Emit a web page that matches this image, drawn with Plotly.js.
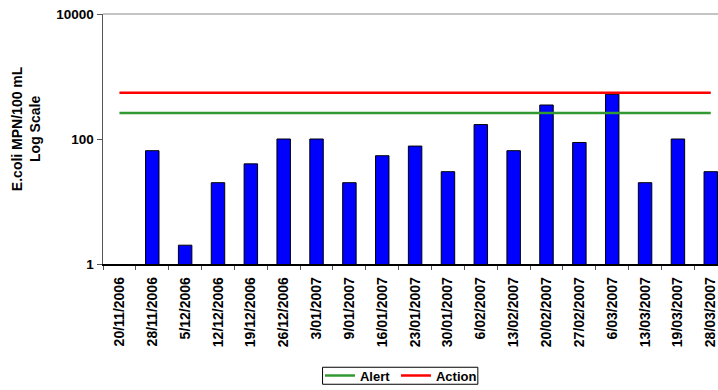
<!DOCTYPE html>
<html>
<head>
<meta charset="utf-8">
<script src="https://cdn.plot.ly/plotly-3.0.1.min.js"></script>
<style>
  html, body { margin: 0; padding: 0; background: #fff; overflow: hidden; }
  #chart { width: 718px; height: 390px; }
</style>
</head>
<body>
<div id="chart"></div>
<script>
// Sampling dates (category axis)
const sampleDates = [
  "20/11/2006", "28/11/2006", "5/12/2006", "12/12/2006", "19/12/2006",
  "26/12/2006", "3/01/2007", "9/01/2007", "16/01/2007", "23/01/2007",
  "30/01/2007", "6/02/2007", "13/02/2007", "20/02/2007", "27/02/2007",
  "6/03/2007", "13/03/2007", "19/03/2007", "28/03/2007"
];

// E.coli counts, MPN per 100 mL
const ecoliCounts = [
  null, 65, 2, 20, 40,
  100, 100, 20, 54, 77,
  30, 170, 65, 350, 88,
  520, 20, 100, 30
];

// Guideline thresholds
const alertLevel = 260;
const actionLevel = 550;

const alertSeries = sampleDates.map(() => alertLevel);
const actionSeries = sampleDates.map(() => actionLevel);

const FONT = "Arial, 'Liberation Sans', sans-serif";

const traces = [
  {
    type: "bar",
    x: sampleDates,
    y: ecoliCounts,
    width: 0.41,
    marker: { color: "#0000ff", line: { color: "#000000", width: 1 } },
    showlegend: false,
    hoverinfo: "x+y"
  },
  {
    type: "scatter",
    mode: "lines",
    name: "Alert",
    x: sampleDates,
    y: alertSeries,
    line: { color: "#339933", width: 2.5 }
  },
  {
    type: "scatter",
    mode: "lines",
    name: "Action",
    x: sampleDates,
    y: actionSeries,
    line: { color: "#ff0000", width: 2.5 }
  },
  // blank spacer entry so the fixed-width legend row leaves room for "Action"
  {
    type: "scatter",
    mode: "lines",
    name: " ",
    x: [null],
    y: [null],
    line: { color: "rgba(0,0,0,0)", width: 0 },
    hoverinfo: "skip"
  }
];

const layout = {
  width: 718,
  height: 390,
  margin: { l: 103, r: 0, t: 14, b: 126, autoexpand: false },
  paper_bgcolor: "#ffffff",
  plot_bgcolor: "#ffffff",
  font: { family: FONT, size: 14, color: "#000000", weight: "bold" },
  showlegend: true,
  legend: {
    orientation: "h",
    x: 0.3528,
    xanchor: "left",
    y: -0.446,
    yanchor: "middle",
    borderwidth: 0,
    bgcolor: "rgba(0,0,0,0)",
    entrywidth: 31,
    itemwidth: 30,
    font: { family: FONT, size: 13, weight: "bold" },
    tracegroupgap: 0
  },
  xaxis: {
    type: "category",
    range: [-0.5, 18.22],
    automargin: false,
    showgrid: false,
    zeroline: false,
    showline: true,
    linecolor: "#000000",
    linewidth: 1.5,
    ticks: "outside",
    tickson: "boundaries",
    ticklen: 4,
    tickcolor: "#555555",
    tickangle: -90,
    ticklabelstandoff: 6,
    tickfont: { family: FONT, size: 14, weight: "bold" },
    fixedrange: true
  },
  yaxis: {
    type: "log",
    range: [0, 4],
    tickvals: [1, 100, 10000],
    ticktext: ["1", "100", "10000"],
    automargin: false,
    showgrid: false,
    zeroline: false,
    showline: true,
    linecolor: "#555555",
    linewidth: 1.5,
    ticks: "outside",
    ticklen: 5,
    tickcolor: "#555555",
    tickfont: { family: FONT, size: 13.5, weight: "bold" },
    fixedrange: true
  },
  shapes: [
    // light top border of the plot area
    {
      type: "line", xref: "paper", yref: "paper",
      x0: 0, x1: 1, y0: 1, y1: 1,
      line: { color: "#b0b0b0", width: 1.5 }
    },
    // legend frame
    {
      type: "rect", xref: "paper", yref: "paper",
      x0: 0.357, x1: 0.6095, y0: -0.481, y1: -0.413,
      line: { color: "#000000", width: 1 },
      fillcolor: "rgba(0,0,0,0)"
    }
  ],
  annotations: [
    {
      text: "E.coli MPN/100 mL<br>Log Scale",
      xref: "paper", yref: "paper",
      x: -0.125, y: 0.54,
      xanchor: "center", yanchor: "middle",
      textangle: -90,
      showarrow: false,
      font: { family: FONT, size: 14, weight: "bold" }
    }
  ]
};

Plotly.newPlot("chart", traces, layout, { displayModeBar: false, staticPlot: true });
</script>
</body>
</html>
